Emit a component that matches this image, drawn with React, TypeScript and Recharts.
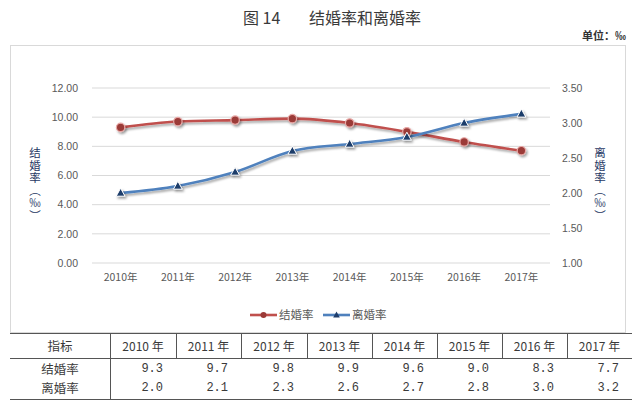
import React from 'react';
import { LineChart, Line, XAxis, YAxis, CartesianGrid } from 'recharts';

const years = ['2010年', '2011年', '2012年', '2013年', '2014年', '2015年', '2016年', '2017年'];
const marriageRate = [9.3, 9.7, 9.8, 9.9, 9.6, 9.0, 8.3, 7.7];
const divorceRate = [2.0, 2.1, 2.3, 2.6, 2.7, 2.8, 3.0, 3.13];
const leftTicks = [0, 2, 4, 6, 8, 10, 12];
const rightTicks = [1, 1.5, 2, 2.5, 3, 3.5];

const tableHeader = ['2010 年', '2011 年', '2012 年', '2013 年', '2014 年', '2015 年', '2016 年', '2017 年'];
const marriageText = ['9.3', '9.7', '9.8', '9.9', '9.6', '9.0', '8.3', '7.7'];
const divorceText = ['2.0', '2.1', '2.3', '2.6', '2.7', '2.8', '3.0', '3.2'];

const data = years.map((y, i) => ({ year: y, marriage: marriageRate[i], divorce: divorceRate[i] }));

const RED = '#c0504d';
const BLUE = '#4f81bd';
const CJK = '"Noto Sans CJK SC", "Liberation Sans", sans-serif';
const LAT = '"Liberation Sans", Arial, sans-serif';

const CircleDot = (props: any) => {
  const { cx, cy, index } = props;
  if (cx == null || cy == null) return null;
  return <circle key={`c${index}`} cx={cx} cy={cy} r={4.2} fill="#9b3a37" stroke="#e8a9a7" strokeWidth={1.2} />;
};

const TriDot = (props: any) => {
  const { cx, cy, index } = props;
  if (cx == null || cy == null) return null;
  return (
    <path
      key={`t${index}`}
      d={`M${cx},${cy - 4.8} L${cx + 4.4},${cy + 3.2} L${cx - 4.4},${cy + 3.2} Z`}
      fill="#1f3d6b"
      stroke="#ffffff"
      strokeWidth={1}
    />
  );
};

const colEdges = [10, 110, 176, 241, 307, 372, 437, 502, 567, 632];

const VertTitle = ({ x, text }: { x: number; text: string }) => (
  <div
    style={{
      position: 'absolute',
      left: x - 9,
      top: 147,
      width: 18,
      writingMode: 'vertical-rl',
      textOrientation: 'mixed',
      fontFamily: CJK,
      fontSize: 11.5,
      letterSpacing: 1,
      lineHeight: '18px',
      color: '#1f3864',
      whiteSpace: 'nowrap',
    }}
  >
    {text}
  </div>
);

const cellText: React.CSSProperties = { position: 'absolute', fontFamily: CJK, fontSize: 12.5, color: '#3a3a3a' };

export default function App() {
  return (
    <div style={{ position: 'absolute', left: 0, top: 0, width: 640, height: 408, background: '#fff', overflow: 'hidden' }}>
      <svg width={0} height={0} style={{ position: 'absolute' }}>
        <defs>
          <filter id="sh" x="-10%" y="-30%" width="120%" height="180%">
            <feDropShadow dx="1.5" dy="2" stdDeviation="1.3" floodColor="#000" floodOpacity="0.35" />
          </filter>
        </defs>
      </svg>
      <style>{`.recharts-line-curve, .recharts-line-dots { filter: url(#sh); }`}</style>

      {/* title */}
      <div style={{ position: 'absolute', left: 243, top: 6, fontFamily: CJK, fontSize: 16, color: '#3a3a3a', whiteSpace: 'pre', lineHeight: '22px' }}>
        图 14{'        '}结婚率和离婚率
      </div>
      <div style={{ position: 'absolute', left: 582, top: 27, fontFamily: CJK, fontSize: 11, fontWeight: 700, color: '#333', lineHeight: '16px' }}>
        单位：‰
      </div>

      {/* frame */}
      <div style={{ position: 'absolute', left: 10, top: 45, width: 614, height: 286, border: '1px solid #d9d9d9' }} />

      <div style={{ position: 'absolute', left: 0, top: 0 }}>
        <LineChart width={640} height={300} data={data} margin={{ top: 88, right: 30, bottom: 7, left: 32 }}>
          <CartesianGrid yAxisId="left" vertical={false} stroke="#d9d9d9" strokeWidth={1} />
          <XAxis
            dataKey="year"
            axisLine={false}
            tickLine={false}
            tickSize={0}
            tickMargin={11}
            height={30}
            padding={{ left: 28.6, right: 28.6 }}
            tick={{ fontSize: 10.5, fill: '#595959', fontFamily: CJK }}
            interval={0}
          />
          <YAxis
            yAxisId="left"
            domain={[0, 12]}
            ticks={leftTicks}
            tickFormatter={(v: number) => v.toFixed(2)}
            axisLine={false}
            tickLine={false}
            tickSize={0}
            tickMargin={14}
            width={60}
            tick={{ fontSize: 10.5, fill: '#595959', fontFamily: LAT }}
            interval={0}
          />
          <YAxis
            yAxisId="right"
            orientation="right"
            domain={[1, 3.5]}
            ticks={rightTicks}
            tickFormatter={(v: number) => v.toFixed(2)}
            axisLine={false}
            tickLine={false}
            tickSize={0}
            tickMargin={12}
            width={60}
            tick={{ fontSize: 10.5, fill: '#595959', fontFamily: LAT }}
            interval={0}
          />
          <Line
            yAxisId="left"
            type="monotone"
            dataKey="marriage"
            stroke={RED}
            strokeWidth={2.6}
            dot={CircleDot}
            activeDot={false}
            isAnimationActive={false}
          />
          <Line
            yAxisId="right"
            type="monotone"
            dataKey="divorce"
            stroke={BLUE}
            strokeWidth={2.6}
            dot={TriDot}
            activeDot={false}
            isAnimationActive={false}
          />
        </LineChart>
      </div>

      {/* axis titles */}
      <VertTitle x={35} text="结婚率（‰）" />
      <VertTitle x={600} text="离婚率（‰）" />

      {/* legend */}
      <svg style={{ position: 'absolute', left: 0, top: 305 }} width={640} height={20}>
        <line x1={250} y1={10} x2={277} y2={10} stroke={RED} strokeWidth={2.6} />
        <circle cx={263.5} cy={10} r={3} fill="#9b3a37" />
        <text x={279} y={14} fontSize={11.5} fill="#595959" fontFamily={CJK}>结婚率</text>
        <line x1={323} y1={10} x2={350} y2={10} stroke={BLUE} strokeWidth={2.6} />
        <path d="M336.5,6.5 L339.8,12.5 L333.2,12.5 Z" fill="#1f3d6b" />
        <text x={352} y={14} fontSize={11.5} fill="#595959" fontFamily={CJK}>离婚率</text>
      </svg>

      {/* table */}
      <div style={{ position: 'absolute', left: 10, top: 333, width: 622, height: 0, borderTop: '1.5px solid #555' }} />
      <div style={{ position: 'absolute', left: 10, top: 358, width: 622, height: 0, borderTop: '1px solid #555' }} />
      <div style={{ position: 'absolute', left: 10, top: 399, width: 622, height: 0, borderTop: '1.5px solid #555' }} />
      <div style={{ position: 'absolute', left: 110, top: 333, width: 0, height: 67, borderLeft: '1px solid #555' }} />
      {colEdges.slice(2, 9).map((x, i) => (
        <div key={i} style={{ position: 'absolute', left: x, top: 333, width: 0, height: 25, borderLeft: '1px solid #555' }} />
      ))}
      <div style={{ ...cellText, left: 10, top: 336, width: 100, textAlign: 'center', lineHeight: '20px' }}>指标</div>
      <div style={{ ...cellText, left: 10, top: 360, width: 100, textAlign: 'center', lineHeight: '18px' }}>结婚率</div>
      <div style={{ ...cellText, left: 10, top: 379, width: 100, textAlign: 'center', lineHeight: '18px' }}>离婚率</div>
      {tableHeader.map((h, i) => (
        <div
          key={h}
          style={{
            ...cellText,
            left: colEdges[i + 1],
            top: 336,
            width: colEdges[i + 2] - colEdges[i + 1],
            textAlign: 'center',
            fontSize: 12,
            lineHeight: '20px',
            whiteSpace: 'pre',
          }}
        >
          {h}
        </div>
      ))}
      {marriageText.map((t, i) => (
        <div
          key={`m${i}`}
          style={{
            ...cellText,
            left: colEdges[i + 1],
            top: 360,
            width: colEdges[i + 2] - colEdges[i + 1] - 13,
            textAlign: 'right',
            fontFamily: '"Liberation Mono", monospace',
            fontSize: 12,
            lineHeight: '18px',
          }}
        >
          {t}
        </div>
      ))}
      {divorceText.map((t, i) => (
        <div
          key={`d${i}`}
          style={{
            ...cellText,
            left: colEdges[i + 1],
            top: 379,
            width: colEdges[i + 2] - colEdges[i + 1] - 13,
            textAlign: 'right',
            fontFamily: '"Liberation Mono", monospace',
            fontSize: 12,
            lineHeight: '18px',
          }}
        >
          {t}
        </div>
      ))}
    </div>
  );
}
